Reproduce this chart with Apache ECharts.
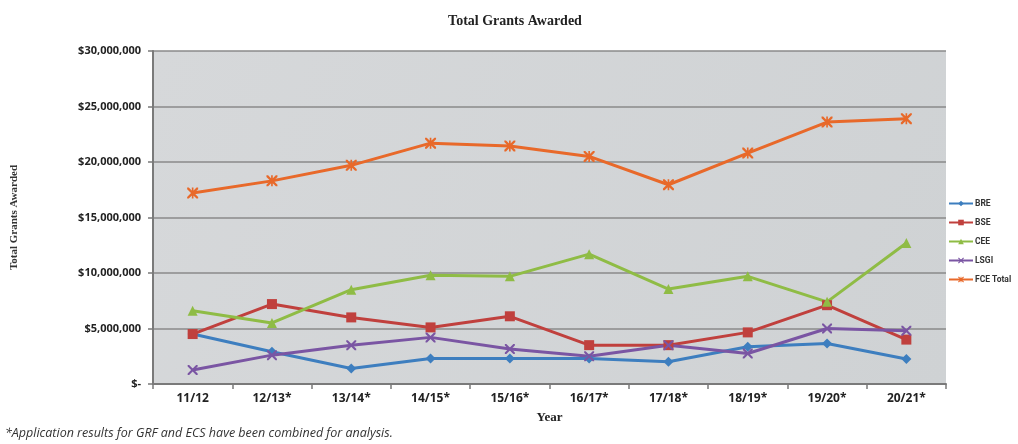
<!DOCTYPE html>
<html><head><meta charset="utf-8">
<script src="https://cdn.jsdelivr.net/npm/echarts@6/dist/echarts.min.js"></script>
<style>html,body{margin:0;padding:0;background:#fff}#c{width:1018px;height:444px}</style>
</head><body><div id="c"></div>
<script>
const categories = ['11/12','12/13*','13/14*','14/15*','15/16*','16/17*','17/18*','18/19*','19/20*','20/21*'];
const BRE = [4500000,2900000,1400000,2300000,2300000,2300000,2000000,3350000,3650000,2250000];
const BSE = [4500000,7200000,6000000,5100000,6100000,3500000,3500000,4650000,7100000,4000000];
const CEE = [6600000,5500000,8500000,9800000,9700000,11700000,8550000,9700000,7400000,12700000];
const LSGI = [1260000,2600000,3500000,4200000,3150000,2500000,3500000,2750000,5000000,4800000];
const FCE = [17200000,18300000,19700000,21700000,21450000,20500000,17950000,20800000,23600000,23900000];
const yTicks = [0,5000000,10000000,15000000,20000000,25000000,30000000];

const xPath = 'path://M0,0L3,0L10,7L17,0L20,0L20,3L13,10L20,17L20,20L17,20L10,13L3,20L0,20L0,17L7,10L0,3Z';
const starPath = 'path://M0,0L3,0L10,7L17,0L20,0L20,3L13,10L20,17L20,20L17,20L10,13L3,20L0,20L0,17L7,10L0,3Z M8.5,0L11.5,0L11.5,20L8.5,20Z';

function mk(name, data, color, symbol, size){
  return {name, type:'line', data, symbol, symbolSize:size,
    lineStyle:{color, width:3}, itemStyle:{color}, showSymbol:true};
}
const chart = echarts.init(document.getElementById('c'));
chart.setOption({
  animation:false,
  title:{text:'Total Grants Awarded', left:510, textAlign:'center', top:9,
    textStyle:{fontFamily:'Liberation Serif', fontWeight:'bold', fontSize:14, color:'#222'}},
  grid:{left:153, right:72, top:51, bottom:60, show:true,
    backgroundColor:new echarts.graphic.LinearGradient(0,0,1,1,[{offset:0,color:'#d6d8da'},{offset:1,color:'#cfd2d4'}]),
    borderWidth:0},
  legend:{orient:'vertical', left:948, top:199, itemGap:10, itemWidth:24, itemHeight:7, padding:0,
    data:['BRE','BSE','CEE','LSGI','FCE Total'],
    textStyle:{fontFamily:'Roboto', fontWeight:'bold', fontSize:8.5, color:'#333', padding:[0,0,0,-3]}},
  xAxis:{type:'category', data:categories, boundaryGap:true,
    name:'Year', nameLocation:'middle', nameGap:27,
    nameTextStyle:{fontFamily:'Liberation Serif', fontWeight:'bold', fontSize:13, color:'#222'},
    axisLine:{lineStyle:{color:'#7a7a7a', width:2}},
    axisTick:{show:true, length:5, lineStyle:{color:'#7a7a7a', width:1.5}},
    axisLabel:{fontFamily:'Open Sans', fontWeight:'bold', fontSize:12, color:'#222', margin:9}},
  yAxis:{type:'value', min:0, max:30000000, interval:5000000,
    name:'Total Grants Awarded', nameLocation:'middle', nameGap:133, nameRotate:90,
    nameTextStyle:{fontFamily:'Liberation Serif', fontWeight:'bold', fontSize:11, color:'#333'},
    axisLine:{show:true, lineStyle:{color:'#7a7a7a', width:2}},
    axisTick:{show:true, length:5, lineStyle:{color:'#7a7a7a', width:1.5}},
    splitLine:{lineStyle:{color:'#8a8a8a', width:1.5}},
    axisLabel:{fontFamily:'Open Sans', fontWeight:'bold', fontSize:11, color:'#222', margin:12,
      formatter:v=> v===0 ? '$-' : '$' + v.toLocaleString('en-US')}},
  series:[
    mk('BRE', BRE, '#3d7ebf', 'diamond', 10),
    mk('BSE', BSE, '#c0403d', 'rect', 10),
    mk('CEE', CEE, '#8fbc45', 'triangle', 10),
    mk('LSGI', LSGI, '#7a55a3', xPath, 10),
    mk('FCE Total', FCE, '#e8692a', starPath, 11)
  ],
  graphic:[{type:'text', left:5, top:427,
    style:{text:'*Application results for GRF and ECS have been combined for analysis.',
      font:'italic 12.5px "Open Sans"', fill:'#333'}}]
});
</script></body></html>
